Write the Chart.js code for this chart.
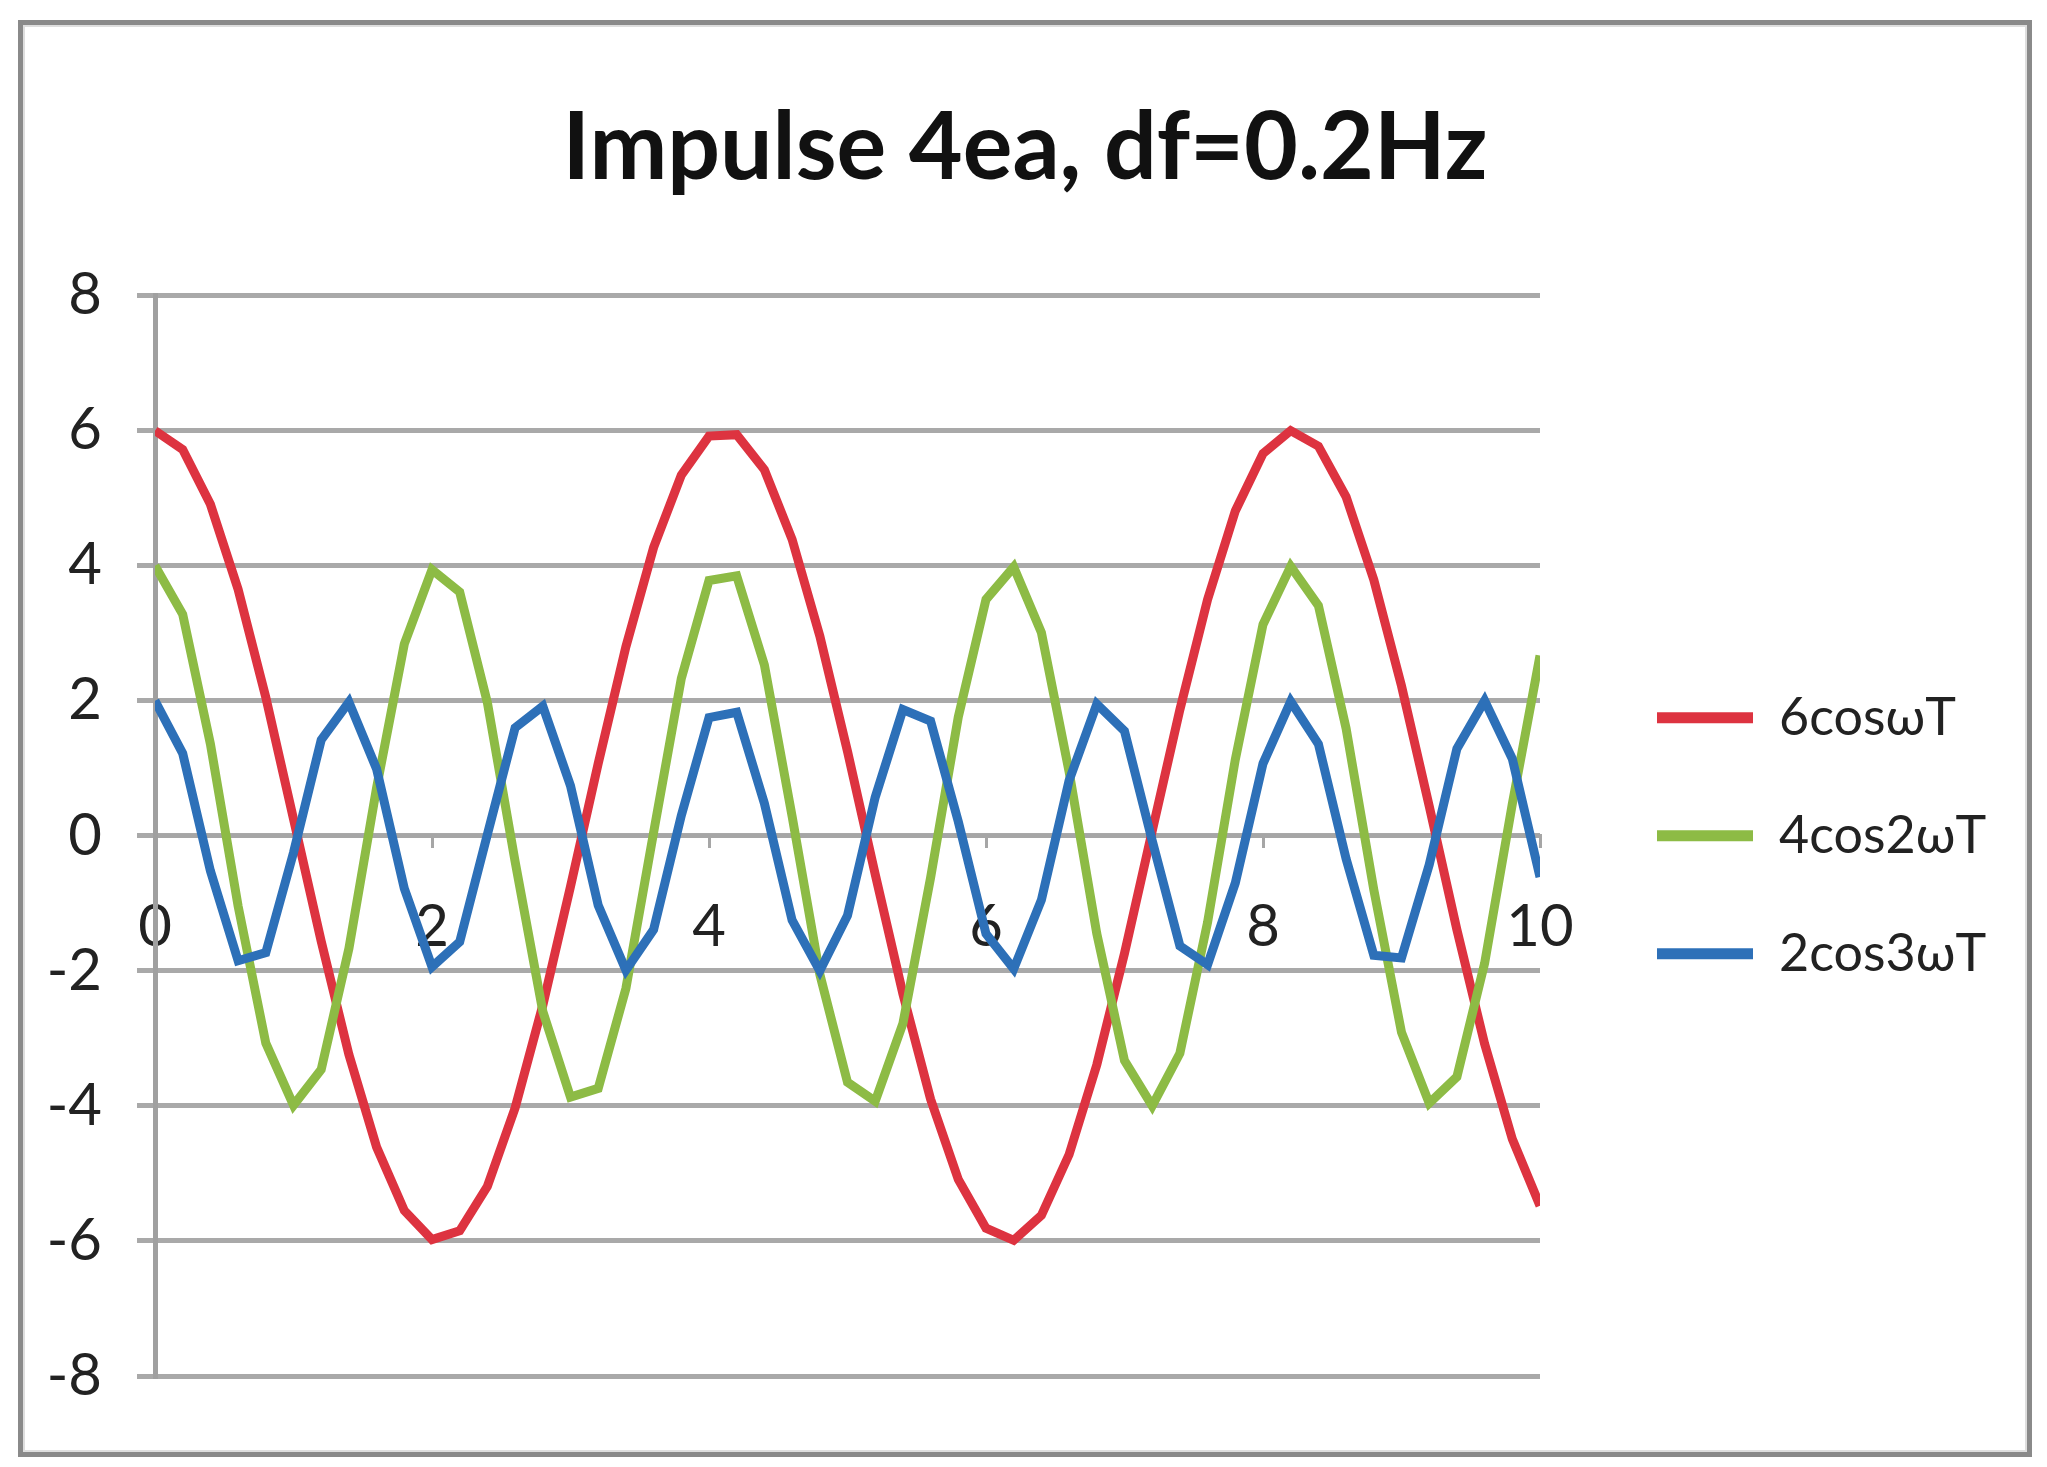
<!DOCTYPE html>
<html>
<head>
<meta charset="utf-8">
<title>Impulse 4ea, df=0.2Hz</title>
<script src="https://cdn.jsdelivr.net/npm/chart.js@4.4.1/dist/chart.umd.min.js"></script>
<style>
  html, body { margin: 0; padding: 0; background: #fff; }
  #frame {
    position: absolute; left: 18px; top: 20px;
    width: 2014px; height: 1437px;
    box-sizing: border-box;
    border: 5px solid #8a8a8a;
    box-shadow: inset 0 0 0 2px #dedede;
  }
</style>
</head>
<body>
<div id="frame"><canvas id="chart"></canvas></div>
<script>
// 图表数据
const chartTitle = 'Impulse 4ea, df=0.2Hz';
const seriesNames = ['6cosωT', '4cos2ωT', '2cos3ωT'];
const seriesColors = ['#dd3340', '#8dbb45', '#2d70b8'];

// 时间 T
const tValues = [
  0, 0.2, 0.4, 0.6, 0.8, 1, 1.2, 1.4, 1.6, 1.8,
  2, 2.2, 2.4, 2.6, 2.8, 3, 3.2, 3.4, 3.6, 3.8,
  4, 4.2, 4.4, 4.6, 4.8, 5, 5.2, 5.4, 5.6, 5.8,
  6, 6.2, 6.4, 6.6, 6.8, 7, 7.2, 7.4, 7.6, 7.8,
  8, 8.2, 8.4, 8.6, 8.8, 9, 9.2, 9.4, 9.6, 9.8,
  10
];

// 6cosωT
const redValues = [
  6.00, 5.72, 4.91, 3.65, 2.05, 0.25, -1.56, -3.24, -4.61, -5.55,
  -5.98, -5.85, -5.19, -4.03, -2.51, -0.75, 1.07, 2.80, 4.27, 5.34,
  5.92, 5.94, 5.42, 4.39, 2.96, 1.25, -0.57, -2.34, -3.90, -5.09,
  -5.81, -5.99, -5.62, -4.72, -3.39, -1.74, 0.07, 1.87, 3.50, 4.81,
  5.66, 6.00, 5.77, 5.02, 3.79, 2.22, 0.44, -1.39, -3.08, -4.49,
  -5.48
];

// 4cos2ωT
const greenValues = [
  4.00, 3.28, 1.36, -1.04, -3.07, -3.99, -3.46, -1.67, 0.71, 2.84,
  3.94, 3.61, 1.97, -0.38, -2.60, -3.87, -3.74, -2.26, 0.05, 2.33,
  3.78, 3.85, 2.53, 0.29, -2.05, -3.65, -3.93, -2.78, -0.62, 1.76,
  3.50, 3.98, 3.01, 0.95, -1.45, -3.33, -4.00, -3.22, -1.28, 1.13,
  3.13, 3.99, 3.41, 1.59, -0.80, -2.91, -3.96, -3.57, -1.89, 0.47,
  2.67
];

// 2cos3ωT
const blueValues = [
  2.00, 1.22, -0.52, -1.85, -1.73, -0.25, 1.42, 1.98, 0.99, -0.78,
  -1.94, -1.57, 0.02, 1.60, 1.92, 0.74, -1.03, -1.99, -1.39, 0.30,
  1.75, 1.83, 0.48, -1.25, -2.00, -1.18, 0.57, 1.87, 1.70, 0.21,
  -1.45, -1.97, -0.95, 0.82, 1.95, 1.55, -0.07, -1.63, -1.91, -0.70,
  1.07, 1.99, 1.36, -0.34, -1.77, -1.81, -0.43, 1.29, 2.00, 1.14,
  -0.61
];

const xTicks = [0, 2, 4, 6, 8, 10];
const yTicks = [-8, -6, -4, -2, 0, 2, 4, 6, 8];

// 组合成 Chart.js 需要的点
function toPoints(values) {
  return tValues.map((t, i) => ({ x: t, y: values[i] }));
}

const allSeries = [redValues, greenValues, blueValues];

// 图例宽度固定，方便控制绘图区右边界
const fixedLegendWidth = {
  id: 'fixedLegendWidth',
  afterInit(chart) {
    const legend = chart.legend;
    const origFit = legend.fit;
    legend.fit = function () {
      origFit.call(this);
      this.width = 412;
    };
  }
};

Chart.defaults.font.family = 'Lato, "DejaVu Sans", sans-serif';
Chart.defaults.color = '#222';

const ctx = document.getElementById('chart').getContext('2d');
new Chart(ctx, {
  type: 'line',
  data: {
    datasets: allSeries.map((values, i) => ({
      label: seriesNames[i],
      data: toPoints(values),
      borderColor: seriesColors[i],
      backgroundColor: seriesColors[i],
      borderWidth: 9,
      pointRadius: 0,
      tension: 0,
      fill: false,
      order: allSeries.length - 1 - i
    }))
  },
  options: {
    responsive: true,
    maintainAspectRatio: false,
    animation: false,
    layout: {
      padding: { left: 24, right: 24, top: 0, bottom: 76 }
    },
    plugins: {
      title: {
        display: true,
        text: chartTitle,
        color: '#111',
        font: { size: 93, weight: 'bold' },
        padding: { top: 68, bottom: 91 }
      },
      legend: {
        position: 'right',
        fullSize: false,
        labels: {
          usePointStyle: true,
          pointStyle: 'line',
          pointStyleWidth: 96,
          padding: 66,
          color: '#222',
          font: { size: 52 },
          sort: (a, b) => a.datasetIndex - b.datasetIndex,
          generateLabels: (chart) =>
            Chart.defaults.plugins.legend.labels.generateLabels(chart)
              .map(item => ({ ...item, lineWidth: 11 }))
        }
      },
      tooltip: { enabled: false }
    },
    scales: {
      x: {
        type: 'linear',
        position: { y: 0 },
        min: xTicks[0],
        max: xTicks[xTicks.length - 1],
        afterBuildTicks: (scale) => { scale.ticks = xTicks.map(v => ({ value: v })); },
        ticks: { padding: 47, color: '#222', font: { size: 58 } },
        grid: { drawOnChartArea: false, drawTicks: true, tickLength: 10, color: '#a6a6a6', lineWidth: 3 },
        border: { display: true, color: '#a6a6a6', width: 4 }
      },
      y: {
        min: yTicks[0],
        max: yTicks[yTicks.length - 1],
        afterBuildTicks: (scale) => { scale.ticks = yTicks.map(v => ({ value: v })); },
        ticks: { padding: 35, color: '#222', font: { size: 58 } },
        grid: { color: '#a9a9a9', lineWidth: 5, tickLength: 18 },
        border: { color: '#a0a0a0', width: 5 },
        afterFit: (scale) => { scale.width = 108; }
      },
      y2: {
        position: 'right',
        display: true,
        grid: { display: false },
        border: { display: false },
        ticks: { display: false },
        afterFit: (scale) => { scale.width = 51; }
      }
    }
  },
  plugins: [fixedLegendWidth]
});
</script>
</body>
</html>
